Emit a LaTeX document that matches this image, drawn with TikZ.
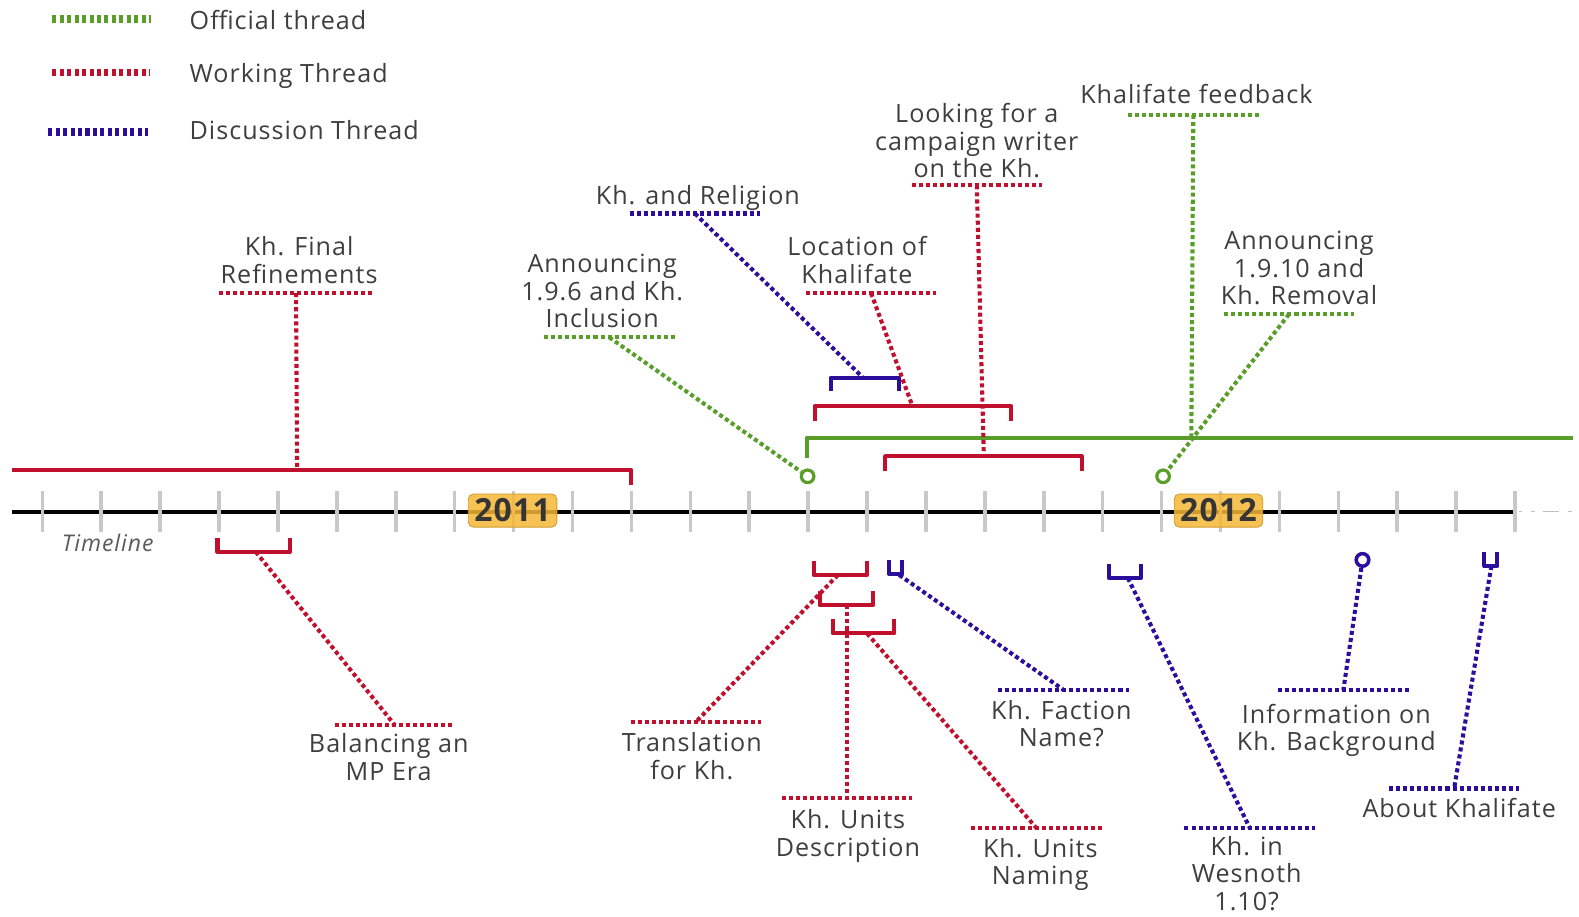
\documentclass[tikz,border=0pt]{standalone}
\usepackage{fontspec}
\setmainfont{Open Sans}[LetterSpace=4]
\definecolor{gOff}{HTML}{5A9E2A}
\definecolor{rWork}{HTML}{C0102E}
\definecolor{bDisc}{HTML}{2B0E9C}
\definecolor{txt}{HTML}{3E3E3E}
\definecolor{tickc}{HTML}{C8C8C8}
\definecolor{yearc}{HTML}{F5B735}
\begin{document}
\begin{tikzpicture}[x=0.02cm,y=-0.02cm,
  every node/.style={text=txt, font=\fontsize{14.2}{15.6}\selectfont},
  lblA/.style={align=center, anchor=south, inner xsep=0pt, inner ysep=0.5pt},
  lblB/.style={align=center, anchor=north, inner xsep=0pt, inner ysep=5.5pt},
  ul/.style={shape=rectangle, inner sep=0pt, minimum height=0pt, minimum width=#1},
  ul/.default=2.58cm,
  dotline/.style={line width=2.3pt, dash pattern=on 2.3pt off 1.7pt},
  legdot/.style={line width=4.5pt, dash pattern=on 2.3pt off 1.9pt},
  brk/.style={line width=2.3pt, line join=round},
  gcirc/.style={circle, draw=gOff, line width=1.8pt, fill=white, minimum size=0.25cm, inner sep=0pt},
  bcirc/.style={circle, draw=bDisc, line width=2pt, fill=white, minimum size=0.25cm, inner sep=0pt},
  year/.style={rounded corners=3pt, fill=yearc, fill opacity=0.85, text opacity=1,
    draw=yearc!85!black, line width=0.5pt, minimum width=1.76cm, minimum height=0.66cm,
    inner sep=0pt, font=\bfseries\fontsize{18}{18}\selectfont, text=txt!85!black},
  leg/.style={anchor=west, inner sep=0pt}
]
\useasboundingbox (0,0) rectangle (1568,910);

% legend
\draw[legdot,gOff] (52,19) -- (150,19);
\draw[legdot,rWork] (52,72) -- (149,72);
\draw[legdot,bDisc] (48,131) -- (147,131);
\node[leg] (lgO) at (188,20) {Official thread};
\node[leg] (lgW) at (188,75) {Working Thread};
\node[leg] (lgD) at (188,129) {Discussion Thread};

% timeline
\draw[line width=2.3pt] (12,508) -- (1502,508);
\draw[gray!50, line width=0.6pt, dash pattern=on 2pt off 5pt on 2pt off 5pt on 9pt off 5pt] (1508,508) -- (1568,508);
\foreach \i in {0,...,25} \draw[tickc, line width=2pt] ({42+58.5*\i},488) -- ({42+58.5*\i},528);
\node[year] (y2011) at (509,507) {2011};
\node[year] (y2012) at (1210,507) {2012};
\node[font=\itshape\fontsize{13}{15}\selectfont, text=txt!85] (tl) at (107,539) {Timeline};

% brackets above
\draw[brk,rWork] (12,467) -- (627,467) -- (627,482);
\coordinate (rb1) at (295,467);
\draw[brk,gOff] (801,455) -- (801,435) -- (1562,435);
\coordinate (gb) at (1183,435);
\draw[brk,rWork] (809,418) -- (809,403) -- (1004,403) -- (1004,418);
\coordinate (rb2) at (906,403);
\draw[brk,bDisc] (825,388) -- (825,375) -- (893,375) -- (893,388);
\coordinate (bb1) at (857,375);
\draw[brk,rWork] (879,468) -- (879,453) -- (1074,453) -- (1074,468);
\coordinate (rb3) at (977,453);

% brackets below
\draw[brk,rWork] (216,534) -- (216,548) -- (288,548) -- (288,534);
\coordinate (rb4) at (254,548);
\draw[brk,rWork] (808,557) -- (808,571) -- (861,571) -- (861,557);
\coordinate (rb5) at (832,571);
\draw[brk,rWork] (814,587) -- (814,601) -- (867,601) -- (867,587);
\coordinate (rb6) at (841,601);
\draw[brk,rWork] (827,615) -- (827,629) -- (888,629) -- (888,615);
\coordinate (rb7) at (861,629);
\draw[brk,bDisc] (883,556) -- (883,570) -- (896,570) -- (896,556);
\coordinate (bb2) at (893,571);
\draw[brk,bDisc] (1101,560) -- (1101,574) -- (1133,574) -- (1133,560);
\coordinate (bb3) at (1120,574);
\draw[brk,bDisc] (1474,548) -- (1474,562) -- (1487,562) -- (1487,548);
\coordinate (bb4) at (1481,562);

% underline nodes
\node[ul=3.04cm] (uFR) at (294,291) {};
\node[ul] (uA6) at (605,335) {};
\node[ul] (uRel) at (690,212) {};
\node[ul] (uLoc) at (865,291) {};
\node[ul] (uLook) at (970,184) {};
\node[ul] (uFb) at (1185,114) {};
\node[ul] (uA10) at (1280,312) {};
\node[ul=2.36cm] (uBal) at (392,720) {};
\node[ul] (uTr) at (691,717) {};
\node[ul] (uDesc) at (841,792) {};
\node[ul] (uNam) at (1029,822) {};
\node[ul] (uFac) at (1056,685) {};
\node[ul] (uWes) at (1241,822) {};
\node[ul] (uInf) at (1334,685) {};
\node[ul] (uAb) at (1444,783) {};

% markers
\node[gcirc] (c1) at (802,473) {};
\node[gcirc] (c2) at (1155,473) {};
\node[bcirc] (c3) at (1353,556) {};

% connectors
\draw[dotline,rWork] (uFR.center) -- (rb1);
\draw[dotline,gOff] (uA6.center) -- (c1);
\draw[dotline,bDisc] (uRel.center) -- (bb1);
\draw[dotline,rWork] (uLoc.center) -- (rb2);
\draw[dotline,rWork] (uLook.center) -- (rb3);
\draw[dotline,gOff] (uFb.center) -- (gb);
\draw[dotline,gOff] (uA10.center) -- (c2);
\draw[dotline,rWork] (rb4) -- (uBal.center);
\draw[dotline,rWork] (rb5) -- (uTr.center);
\draw[dotline,rWork] (rb6) -- (uDesc.center);
\draw[dotline,rWork] (rb7) -- (uNam.center);
\draw[dotline,bDisc] (bb2) -- (uFac.center);
\draw[dotline,bDisc] (bb3) -- (uWes.center);
\draw[dotline,bDisc] (c3) -- (uInf.center);
\draw[dotline,bDisc] (bb4) -- (uAb.center);

% underlines
\foreach \u/\c in {uFR/rWork,uA6/gOff,uRel/bDisc,uLoc/rWork,uLook/rWork,uFb/gOff,uA10/gOff,
  uBal/rWork,uTr/rWork,uDesc/rWork,uNam/rWork,uFac/bDisc,uWes/bDisc,uInf/bDisc,uAb/bDisc}
  \draw[dotline,\c] (\u.west) -- (\u.east);

% texts
\node[lblA] (tFR) at (297,291) {Kh. Final\\Refinements\strut};
\node[lblA] (tA6) at (598,335) {Announcing\\1.9.6 and Kh.\\Inclusion\strut};
\node[lblA] (tRel) at (693,213) {Kh. and Religion\strut};
\node[lblA] (tLoc) at (851,291) {Location of\\Khalifate\strut};
\node[lblA] (tLook) at (970,186) {Looking for a\\campaign writer\\on the Kh.\strut};
\node[lblA] (tFb) at (1188,112) {Khalifate feedback\strut};
\node[lblA] (tA10) at (1290,312) {Announcing\\1.9.10 and\\Kh. Removal\strut};
\node[lblB] (tBal) at (386,718) {\strut Balancing an\\MP Era};
\node[lblB] (tTr) at (687,717) {\strut Translation\\for Kh.};
\node[lblB] (tDesc) at (842,794) {\strut Kh. Units\\Description};
\node[lblB] (tNam) at (1033,822) {\strut Kh. Units\\Naming};
\node[lblB] (tFac) at (1054,685) {\strut Kh. Faction\\Name?};
\node[lblB] (tWes) at (1238,820) {\strut Kh. in\\Wesnoth\\1.10?};
\node[lblB] (tInf) at (1327,689) {\strut Information on\\Kh. Background};
\node[lblB] (tAb) at (1449,783) {\strut About Khalifate};
\end{tikzpicture}
\end{document}
